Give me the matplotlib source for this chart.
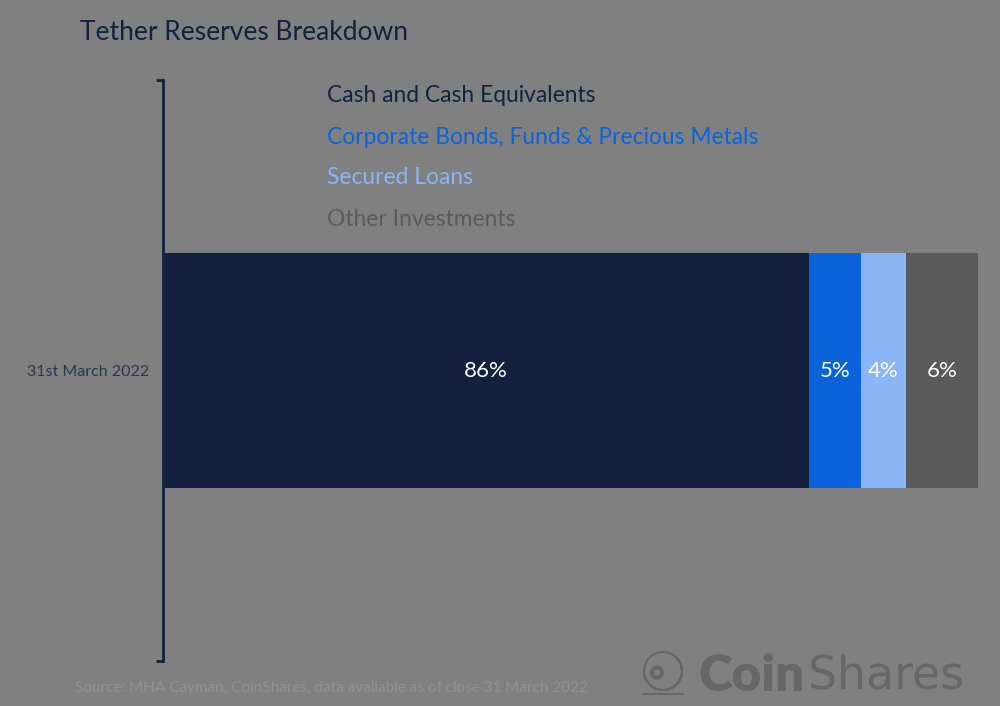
import matplotlib.pyplot as plt
from matplotlib.patches import Circle, Wedge

# Data
category = '31st March 2022'
segments = ['Cash and Cash Equivalents', 'Corporate Bonds, Funds & Precious Metals',
            'Secured Loans', 'Other Investments']
widths = [86, 6.9, 6.0, 9.6]          # drawn segment lengths
labels = ['86%', '5%', '4%', '6%']    # printed shares
colors = ['#13213f', '#0b63db', '#8ab6f8', '#5a5a5a']

bg = '#808080'
navy = '#13213f'
plt.rcParams['font.family'] = ['Lato', 'DejaVu Sans']

fig = plt.figure(figsize=(10, 7.06), dpi=100, facecolor=bg)
ax = fig.add_axes([0.163, 0.0637, 0.815, 0.823])
ax.set_facecolor(bg)

left = 0
for w, lab, c in zip(widths, labels, colors):
    ax.barh(0, w, left=left, height=0.404, color=c, edgecolor='none')
    ax.text(left + w / 2, 0, lab, ha='center', va='center', color='white', fontsize=16)
    left += w

ax.set_xlim(0, sum(widths))
ax.set_ylim(-0.5, 0.5)
ax.set_xticks([])
ax.set_yticks([0])
ax.set_yticklabels([category], fontsize=11.5, color='#2a3550')
ax.tick_params(axis='y', which='major', length=0, pad=10)
ax.set_yticks([-0.5, 0.5], minor=True)
ax.tick_params(axis='y', which='minor', length=5, width=2, color=navy)
for s in ['top', 'right', 'bottom']:
    ax.spines[s].set_visible(False)
ax.spines['left'].set_color(navy)
ax.spines['left'].set_linewidth(2)

# legend as coloured text
for i, (name, c) in enumerate(zip(segments, colors)):
    fig.text(0.327, 1 - (96 + 41 * i) / 706, name, color=c, fontsize=16.4,
             ha='left', va='center')

fig.text(0.08, 1 - 32 / 706, 'Tether Reserves Breakdown', color=navy, fontsize=19,
         ha='left', va='center')
fig.text(0.075, 1 - 688 / 706, 'Source: MHA Cayman, CoinShares, data available as of close 31 March 2022',
         color='#909090', fontsize=11, ha='left', va='center')

# CoinShares logo
logo_c = '#676767'
fig.text(0.699, 1 - 676 / 706, 'Coin', color=logo_c, fontsize=37, fontweight='heavy',
         ha='left', va='center')
fig.text(0.808, 1 - 676 / 706, 'Shares', color=logo_c, fontsize=33, fontweight='normal',
         family='DejaVu Sans', ha='left', va='center')
lax = fig.add_axes([0.638, 1 - 700 / 706, 0.05, 0.075])
lax.set_xlim(0, 1)
lax.set_ylim(0, 1)
lax.set_aspect('equal')
lax.axis('off')
lax.add_patch(Circle((0.5, 0.55), 0.38, fill=False, ec=logo_c, lw=1.5))
lax.add_patch(Wedge((0.5, 0.55), 0.38, 190, 50, width=0.0, fill=False, ec=logo_c, lw=1.5))
lax.add_patch(Circle((0.38, 0.52), 0.1, fill=False, ec=logo_c, lw=3))
lax.plot([0.1, 0.9], [0.1, 0.1], color=logo_c, lw=1.5)

fig.savefig('out.png', dpi=100, facecolor=bg)
